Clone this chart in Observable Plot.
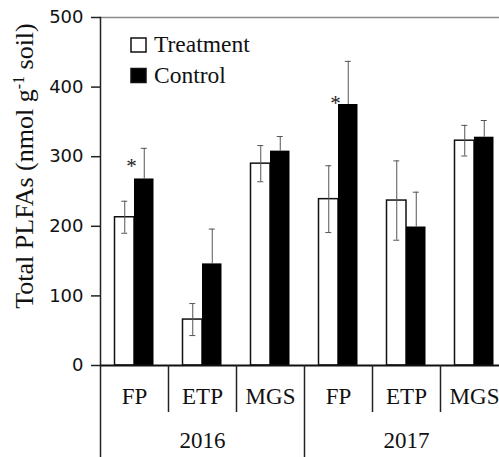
<!DOCTYPE html>
<html>
<head>
<meta charset="utf-8">
<script src="https://cdn.jsdelivr.net/npm/d3@7"></script>
<script src="https://cdn.jsdelivr.net/npm/@observablehq/plot@0.6"></script>
<style>
  html, body { margin: 0; padding: 0; background: white; }
  #wrap { position: relative; width: 499px; height: 457px; overflow: hidden; }
</style>
</head>
<body>
<div id="wrap"></div>
<script>
// ---- data ----
const years = ["2016", "2016", "2016", "2017", "2017", "2017"];
const sites = ["FP", "ETP", "MGS", "FP", "ETP", "MGS"];
const treatmentMean = [213, 66, 290, 239, 237, 323];
const treatmentErr  = [23, 23, 26, 48, 57, 22];
const controlMean   = [268, 146, 308, 375, 199, 328];
const controlErr    = [44, 50, 21, 62, 50, 24];
const sigIndex      = [0, 3];        // groups marked with *
const sigLabelY     = [286, 377];    // value level of the * annotation
const yTicks = [0, 100, 200, 300, 400, 500];
const seriesNames = ["Treatment", "Control"];

const groups = years.map((y, i) => y + "|" + sites[i]);
const data = groups.map((g, i) => ({
  group: g, year: years[i], site: sites[i],
  t: treatmentMean[i], te: treatmentErr[i],
  c: controlMean[i], ce: controlErr[i]
}));
const stars = sigIndex.map((k, j) => ({group: groups[k], y: sigLabelY[j]}));
const yearStarts = groups.filter((g, i) => i === 0 || years[i] !== years[i - 1]);
const innerSeps = groups.filter((g, i) => !(i === 0 || years[i] !== years[i - 1]));
const yearCenters = [...new Set(years)].map(y => {
  const gs = groups.filter((g, i) => years[i] === y);
  return gs[Math.floor(gs.length / 2)];
});

// ---- layout ----
const xRange = [100, 508];
const step = (xRange[1] - xRange[0]) / groups.length;
const barW = 19.5;
const capHalf = 3;
const serif = "Liberation Serif";
const errColor = "#555";

const chart = Plot.plot({
  width: 499, height: 457,
  marginLeft: 100, marginRight: 0, marginTop: 17, marginBottom: 92,
  style: {background: "white", color: "#111"},
  x: {domain: groups, range: xRange, padding: 0, axis: null},
  y: {domain: [0, 500], range: [365, 17], axis: null},
  marks: [
    Plot.frame({anchor: "top", stroke: "#8a8a8a", strokeWidth: 1.5}),
    Plot.frame({anchor: "left", stroke: "#222", strokeWidth: 1.5}),
    // bars
    Plot.barY(data, {x: "group", y: "t", fill: "white", stroke: "#111", strokeWidth: 1.5,
      insetLeft: step / 2 - barW, insetRight: step / 2}),
    Plot.barY(data, {x: "group", y: "c", fill: "black",
      insetLeft: step / 2, insetRight: step / 2 - barW}),
    // error bars
    Plot.ruleX(data, {x: "group", y1: d => d.t - d.te, y2: d => d.t + d.te, dx: -barW / 2, stroke: errColor, strokeWidth: 1}),
    Plot.ruleX(data, {x: "group", y1: "c", y2: d => d.c + d.ce, dx: barW / 2, stroke: errColor, strokeWidth: 1}),
    Plot.tickY(data, {x: "group", y: d => d.t + d.te, stroke: errColor, strokeWidth: 1,
      insetLeft: step / 2 - barW / 2 - capHalf, insetRight: step / 2 + barW / 2 - capHalf}),
    Plot.tickY(data, {x: "group", y: d => d.t - d.te, stroke: errColor, strokeWidth: 1,
      insetLeft: step / 2 - barW / 2 - capHalf, insetRight: step / 2 + barW / 2 - capHalf}),
    Plot.tickY(data, {x: "group", y: d => d.c + d.ce, stroke: errColor, strokeWidth: 1,
      insetLeft: step / 2 + barW / 2 - capHalf, insetRight: step / 2 - barW / 2 - capHalf}),
    // significance
    Plot.text(stars, {x: "group", y: "y", text: () => "*", dx: -3, fontSize: 21, fontFamily: serif, fill: "#222"}),
    // baseline
    Plot.ruleY([0], {stroke: "#111", strokeWidth: 2}),
    // y axis
    Plot.axisY({ticks: yTicks, tickSize: 9, tickPadding: 8, fontSize: 18, fontFamily: "DejaVu Sans",
      label: null, stroke: "#222", strokeWidth: 1.5}),
    // separators below the axis
    Plot.axisX({ticks: innerSeps, tickSize: 47, dx: -step / 2, tickFormat: () => "", label: null,
      stroke: "#222", strokeWidth: 1.5}),
    Plot.axisX({ticks: yearStarts, tickSize: 92, dx: -step / 2, tickFormat: () => "", label: null,
      stroke: "#222", strokeWidth: 1.5}),
    // category labels
    Plot.axisX({ticks: groups, tickSize: 0, tickPadding: 22, label: null,
      tickFormat: g => sites[groups.indexOf(g)], fontSize: 23, fontFamily: serif}),
    // year labels
    Plot.axisX({ticks: yearCenters, tickSize: 0, tickPadding: 66, label: null,
      tickFormat: g => years[groups.indexOf(g)], fontSize: 23, fontFamily: serif})
  ]
});

const wrap = document.getElementById("wrap");
wrap.appendChild(chart);

const svgNS = "http://www.w3.org/2000/svg";
function el(name, attrs) {
  const e = document.createElementNS(svgNS, name);
  for (const k in attrs) e.setAttribute(k, attrs[k]);
  return e;
}

// y-axis title with superscript
const title = el("text", {transform: "translate(33,166) rotate(-90)",
  style: "text-anchor: middle; font-size: 26px; font-family: 'Liberation Serif', serif;", fill: "#111"});
const parts = [["Total PLFAs (nmol g", null], ["-1", "sup"], [" soil)", "after"]];
for (const [txt, kind] of parts) {
  const ts = el("tspan", {});
  ts.textContent = txt;
  if (kind === "sup") { ts.setAttribute("dy", "-9"); ts.setAttribute("style", "font-size: 16px;"); }
  if (kind === "after") { ts.setAttribute("dy", "9"); }
  title.appendChild(ts);
}
chart.appendChild(title);

// legend
const fills = ["white", "black"];
const lg = el("g", {transform: "translate(131,38)"});
seriesNames.forEach((name, i) => {
  lg.appendChild(el("rect", {x: 0, y: i * 30.5, width: 15, height: 14, fill: fills[i], stroke: "#111", "stroke-width": 1.5}));
  const t = el("text", {x: 23, y: i * 30.5 + 14, fill: "#111",
    style: "text-anchor: start; font-size: 23.5px; font-family: 'Liberation Serif', serif;"});
  t.textContent = name;
  lg.appendChild(t);
});
chart.appendChild(lg);
</script>
</body>
</html>
